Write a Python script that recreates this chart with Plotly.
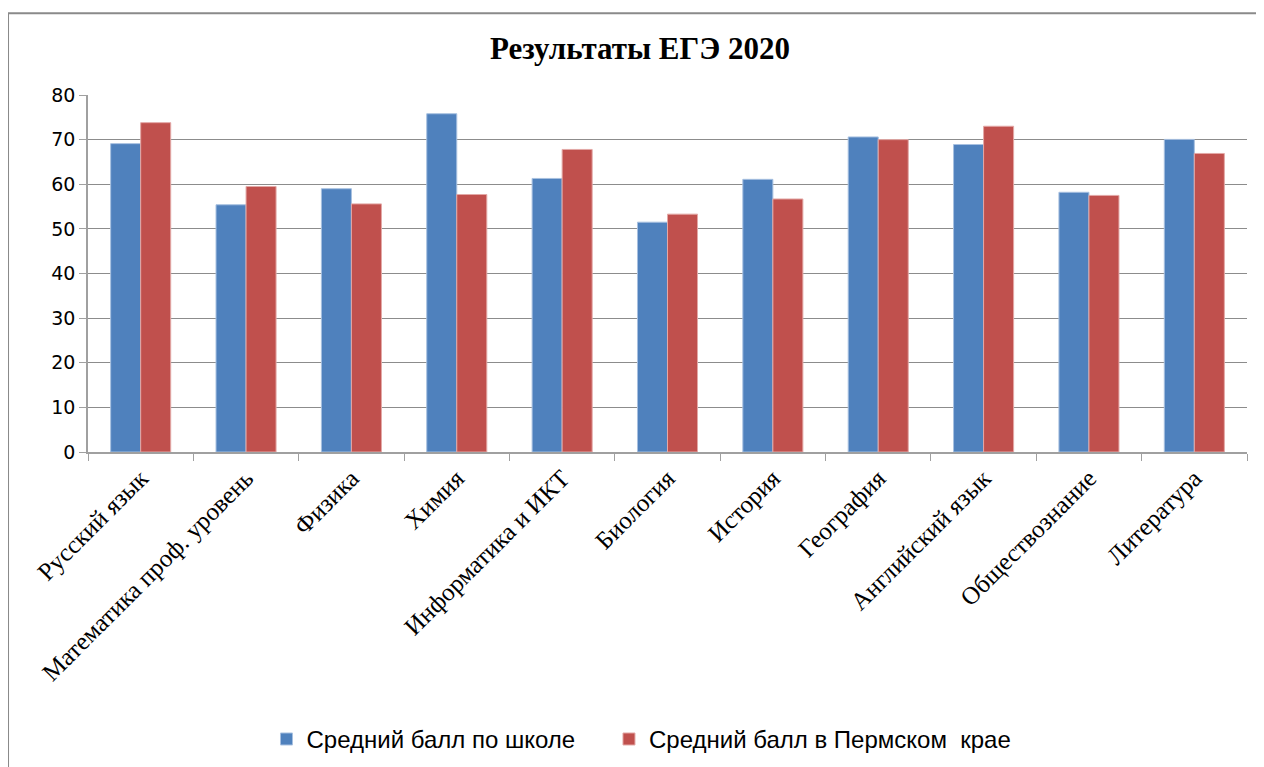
import plotly.graph_objs as go

subjects = ["Русский язык", "Математика проф. уровень", "Физика", "Химия",
            "Информатика и ИКТ", "Биология", "История", "География",
            "Английский язык", "Обществознание", "Литература"]
school = [69.1, 55.4, 59.0, 75.8, 61.3, 51.5, 61.1, 70.6, 68.9, 58.2, 70.05]
region = [73.8, 59.5, 55.6, 57.7, 67.8, 53.3, 56.7, 70.0, 73.0, 57.5, 66.9]

blue = "#4F81BD"
red = "#C0504D"

fig = go.Figure()
fig.add_trace(go.Bar(x=subjects, y=school, name="Средний балл по школе",
                     marker=dict(color=blue, line=dict(color="#A7C0E0", width=1)),
                     legend="legend", showlegend=True))
fig.add_trace(go.Bar(x=subjects, y=region, name="Средний балл в Пермском  крае",
                     marker=dict(color=red, line=dict(color="#E3A8A6", width=1)),
                     legend="legend2", showlegend=True))

# outer frame of the chart
fig.add_shape(type="rect", xref="paper", yref="paper",
              x0=-0.069, x1=1.05, y0=-0.95, y1=1.229,
              line=dict(color="#8A8A8A", width=2), layer="below")

legend_font = dict(family="Liberation Sans", size=24, color="black")

# page body adds 8px offset, margins compensate
fig.update_layout(
    width=1264, height=767,
    margin=dict(l=80, r=25, t=87, b=323),
    paper_bgcolor="white", plot_bgcolor="white",
    showlegend=True,
    barmode="group", bargap=0.43, bargroupgap=0,
    title=dict(text="<b>Результаты ЕГЭ 2020</b>", x=0.5, xanchor="center",
               y=0.948, yanchor="middle",
               font=dict(family="Liberation Serif", size=31, color="black")),
    xaxis=dict(tickangle=-45, showgrid=False, showline=True, linecolor="#A0A0A0",
               linewidth=1.5, ticks="outside", tickson="boundaries", ticklen=7,
               tickcolor="#A0A0A0",
               tickfont=dict(family="Liberation Serif", size=25, color="black")),
    yaxis=dict(range=[0, 80], dtick=10, showgrid=True, gridcolor="#8C8C8C",
               gridwidth=1, showline=True, linecolor="#A0A0A0", linewidth=1.5,
               ticks="outside", ticklen=7, tickcolor="#A0A0A0", zeroline=False,
               tickfont=dict(family="DejaVu Sans", size=19, color="black")),
    legend=dict(orientation="h", x=0.154, xanchor="left", y=-0.805,
                yanchor="middle", font=legend_font, visible=True),
    legend2=dict(orientation="h", x=0.4495, xanchor="left", y=-0.805,
                 yanchor="middle", font=legend_font, visible=True),
    font=dict(family="Liberation Sans"),
)

fig.write_html("out.html")
